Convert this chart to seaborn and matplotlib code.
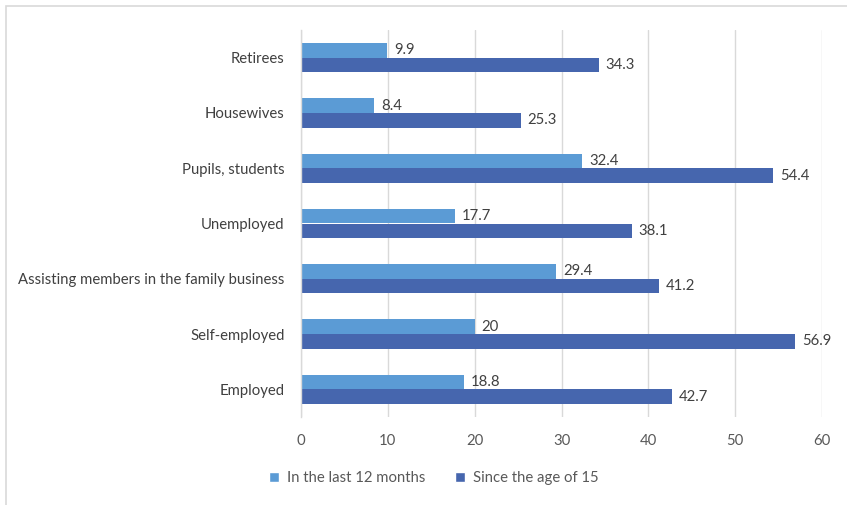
import pandas as pd
import numpy as np
import matplotlib.pyplot as plt
import seaborn as sns
from matplotlib.patches import Rectangle, Patch

# categories from top to bottom
categorias = ["Retirees", "Housewives", "Pupils, students", "Unemployed",
              "Assisting members in the family business", "Self-employed", "Employed"]
ultimos_12_meses = [9.9, 8.4, 32.4, 17.7, 29.4, 20, 18.8]
desde_15_anos = [34.3, 25.3, 54.4, 38.1, 41.2, 56.9, 42.7]
series = ["In the last 12 months", "Since the age of 15"]
cores = ["#5B9BD5", "#4666AE"]
ticks_x = [0, 10, 20, 30, 40, 50, 60]

dados = pd.DataFrame({
    "categoria": categorias * 2,
    "valor": ultimos_12_meses + desde_15_anos,
    "serie": [series[0]] * len(categorias) + [series[1]] * len(categorias),
})

sns.set_style("white")
plt.rcParams["font.family"] = ["Lato", "DejaVu Sans"]

fig = plt.figure(figsize=(8.47, 5.05), dpi=100)
ax = fig.add_axes([301 / 847, 1 - 417 / 505, 521 / 847, 387 / 505])

sns.barplot(data=dados, y="categoria", x="valor", hue="serie", hue_order=series,
            order=categorias, palette=cores, width=0.53, orient="h",
            saturation=1, linewidth=0, ax=ax, legend=False)

for cont in ax.containers:
    ax.bar_label(cont, labels=[f"{v:g}" for v in cont.datavalues], padding=5,
                 fontsize=10.7, color="#404040")

ax.set_xlim(0, 60)
ax.set_xticks(ticks_x)
ax.tick_params(axis="x", labelsize=10.7, labelcolor="#595959", length=0, pad=12)
ax.tick_params(axis="y", labelsize=10.7, labelcolor="#404040", length=0, pad=12)
ax.set_xlabel("")
ax.set_ylabel("")
ax.grid(axis="x", color="#d9d9d9", linewidth=1)
ax.set_axisbelow(True)
for lado in ["top", "right", "bottom"]:
    ax.spines[lado].set_visible(False)
ax.spines["left"].set_color("#d9d9d9")
ax.spines["left"].set_linewidth(1)

# legend
handles = [Patch(facecolor=c, label=s) for c, s in zip(cores, series)]
fig.legend(handles=handles, loc="center", bbox_to_anchor=(0.512, 0.053), ncol=2,
           frameon=False, fontsize=10.7, handlelength=0.7, handleheight=0.7,
           columnspacing=2.0, handletextpad=0.5, labelcolor="#595959")

# chart border (cropped on the right/bottom)
fig.patches.append(Rectangle((6 / 847, -0.1), 1.2, 1 - 6 / 505 + 0.1,
                             transform=fig.transFigure, fill=False,
                             edgecolor="#d9d9d9", linewidth=1.2))

fig.savefig("out.png", dpi=100)
